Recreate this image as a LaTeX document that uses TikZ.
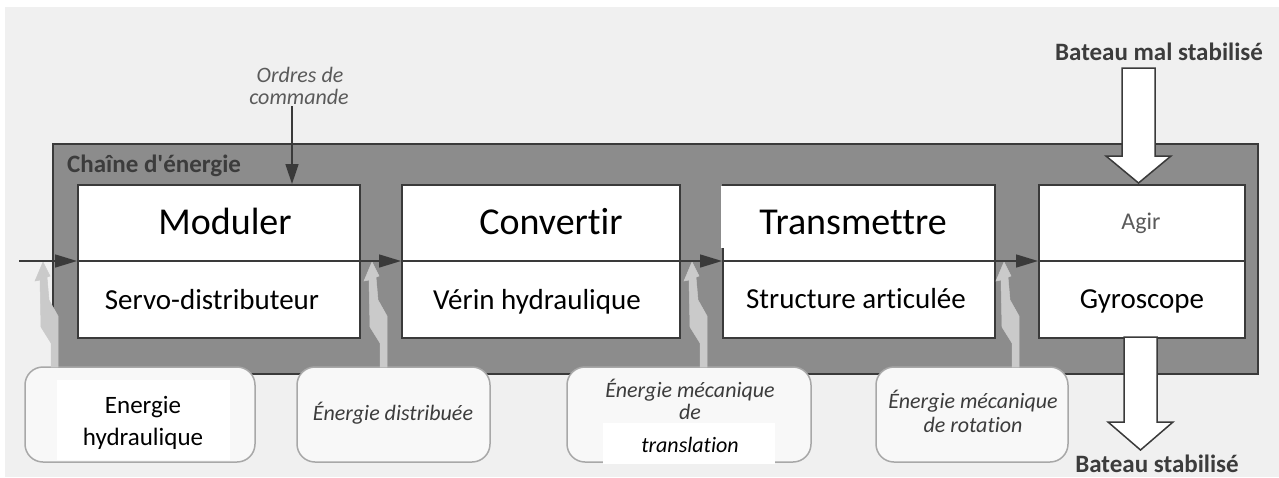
\documentclass[tikz,border=0pt]{standalone}
\usepackage{fontspec}
\setmainfont{Carlito}[Ligatures={TeXOff,CommonOff}]
\usetikzlibrary{arrows.meta,calc}
\definecolor{bgc}{HTML}{F0F0F0}
\definecolor{framec}{HTML}{8C8C8C}
\definecolor{edgec}{HTML}{3A3A3A}
\definecolor{boltc}{HTML}{CACACA}
\definecolor{softbox}{HTML}{F8F8F8}
\definecolor{softedge}{HTML}{A8A8A8}
\definecolor{labelc}{HTML}{3C3C3C}
\definecolor{agirc}{HTML}{5A5A5A}
\begin{document}
\begin{tikzpicture}[x=1pt,y=-1pt,
  fnbox/.style={draw=edgec, line width=1.6pt, fill=white, minimum height=153pt, inner sep=0pt, anchor=north west},
  title/.style={font=\fontsize{38}{38}\selectfont, anchor=base, inner sep=0pt},
  sub/.style={font=\fontsize{29}{29}\selectfont, anchor=base, inner sep=0pt},
  energybox/.style={draw=softedge, fill=softbox, line width=1.5pt, rounded corners=18pt},
  elabel/.style={font=\fontsize{22}{22}\selectfont\itshape, text=labelc, anchor=base, inner sep=0pt},
  bigtext/.style={font=\fontsize{25}{25}\selectfont\bfseries, text=labelc, anchor=base, inner sep=0pt},
  flowline/.style={draw=edgec, line width=1.5pt},
  flow/.style={flowline, -{Triangle[length=22pt,width=13pt]}},
  bolt/.style={fill=boltc, draw=boltc, line width=0.5pt, line join=miter},
  hollow/.style={draw=edgec, line width=1.5pt, fill=white, line join=miter}]
\useasboundingbox (0,0) rectangle (1279,477);
\fill[white] (0,0) rectangle (1279,477);
\fill[bgc] (5,7) rectangle (1279,477);

% energy chain frame
\node[draw=edgec, line width=2pt, fill=framec, minimum width=1205pt, minimum height=230pt, anchor=north west, inner sep=0pt] (chain) at (52,143) {};
\node[font=\fontsize{25}{25}\selectfont\bfseries, text=labelc, anchor=base west, inner sep=0pt] (chainlbl) at (67,172) {Chaîne d'énergie};

% function boxes
\node[fnbox, minimum width=282pt] (mod) at (77,184) {};
\node[fnbox, minimum width=278pt] (conv) at (401,184) {};
\node[fnbox, minimum width=272pt] (trans) at (722,184) {};
\node[fnbox, minimum width=206pt] (agir) at (1038,184) {};
\fill[white] (720.5,186) rectangle (730,248);

\node[title] (tmod) at (225,234) {Moduler};
\node[sub] (smod) at (212,309) {Servo-distributeur};
\node[title] (tconv) at (551,234) {Convertir};
\node[sub] (sconv) at (537,309) {Vérin hydraulique};
\node[title] (ttrans) at (853,234) {Transmettre};
\node[sub] (strans) at (856,308) {Structure articulée};
\node[font=\fontsize{24}{24}\selectfont, text=agirc, anchor=base, inner sep=0pt] (tagir) at (1141,229) {Agir};
\node[sub] (sagir) at (1142,308) {Gyroscope};

% energy source boxes
\draw[energybox] (25,367) rectangle (255,462);
\fill[white] (57,380) rectangle (230,460);
\draw[energybox] (297,367) rectangle (490,462);
\draw[energybox] (567,367) rectangle (811,462);
\fill[white] (603,423) rectangle (775,464);
\draw[energybox] (876,367) rectangle (1068,462);

\node[font=\fontsize{25}{25}\selectfont, anchor=base, inner sep=0pt] (e1a) at (143,413) {Energie};
\node[font=\fontsize{25}{25}\selectfont, anchor=base, inner sep=0pt] (e1b) at (143,445) {hydraulique};
\node[elabel] (e2) at (393,420) {Énergie distribuée};
\node[elabel] (e3a) at (690,397) {Énergie mécanique};
\node[elabel] (e3b) at (690,419) {de};
\node[elabel, text=black] (e3c) at (690,452) {translation};
\node[elabel] (e4a) at (973,408) {Énergie mécanique};
\node[elabel] (e4b) at (973,432) {de rotation};

% lightning arrows
\foreach \x in {54,383,703,1015}{
  \draw[bolt] (\x-11,262) -- (\x-4,276) -- (\x-7,277) -- (\x-5,300) -- (\x+4,316) -- (\x+4,367)
     -- (\x-3,367) -- (\x-3,343) -- (\x-13,327) -- (\x-14,280) -- (\x-19,281) -- cycle;
}

% main energy flow
\coordinate (start) at (19,261);
\draw[flow] (start) -- (start -| mod.west);
\draw[flowline] (start -| mod.west) -- (start -| mod.east);
\draw[flow] (start -| mod.east) -- (start -| conv.west);
\draw[flowline] (start -| conv.west) -- (start -| conv.east);
\draw[flow] (start -| conv.east) -- (start -| trans.west);
\draw[flowline] (start -| trans.west) -- (start -| trans.east);
\draw[flow] (start -| trans.east) -- (start -| agir.west);
\draw[flowline] (start -| agir.west) -- (start -| agir.east);

% command orders
\node[font=\fontsize{22}{22}\selectfont\itshape, text=agirc, anchor=base, inner sep=0pt] (ord1) at (300,82) {Ordres de};
\node[font=\fontsize{22}{22}\selectfont\itshape, text=agirc, anchor=base, inner sep=0pt] (ord2) at (299,104) {commande};
\coordinate (ordfoot) at (292,106);
\draw[flowline, -{Triangle[length=20pt,width=13pt]}] (ordfoot) -- (ordfoot |- mod.north);

% boat arrows
\node[bigtext] (mal) at (1159,60) {Bateau mal stabilisé};
\node[bigtext] (stab) at (1157,472) {Bateau stabilisé};
\draw[hollow] (1122,68) -- (1155,68) -- (1155,156) -- (1171,156) -- (1138.5,183) -- (1106,156) -- (1122,156) -- cycle;
\draw[hollow] (1124,337) -- (1157,337) -- (1157,422) -- (1173,422) -- (1140.5,450) -- (1108,422) -- (1124,422) -- cycle;
\end{tikzpicture}
\end{document}
